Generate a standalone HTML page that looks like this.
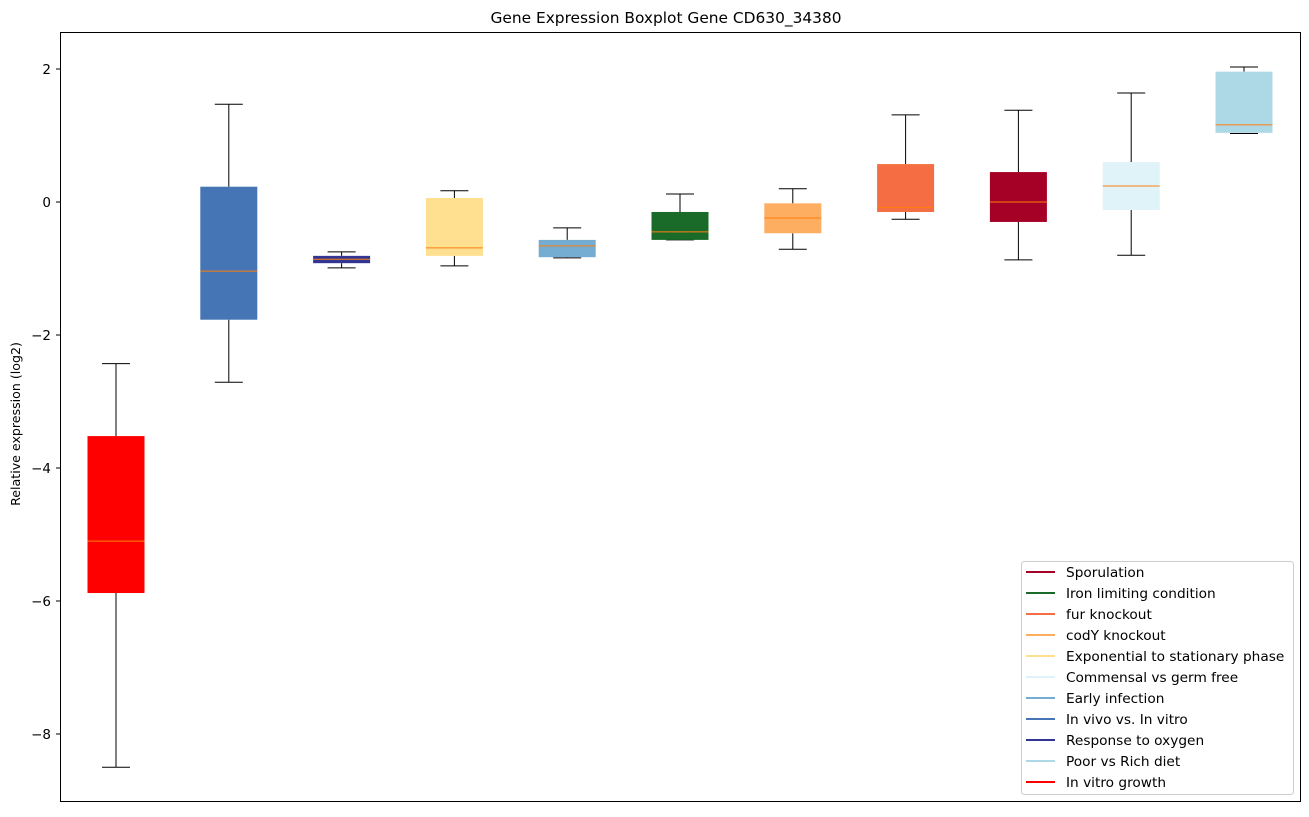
<!DOCTYPE html>
<html><head><meta charset="utf-8"><style>
body{margin:0;background:#fff;font-family:"Liberation Sans","DejaVu Sans",sans-serif}
svg text{font-family:"DejaVu Sans","Liberation Sans",sans-serif}
</style></head><body>
<svg id="chart" width="1309" height="812">
<rect width="1309" height="812" fill="#fff"/>
<text x="666" y="23" text-anchor="middle" font-size="15.4">Gene Expression Boxplot Gene CD630_34380</text>
<text transform="translate(20,424) rotate(-90)" text-anchor="middle" font-size="12.6">Relative expression (log2)</text>
<g id="marks"></g>
<g id="yticks"></g>
<rect x="60.5" y="32.5" width="1240" height="769" fill="none" stroke="#000" stroke-width="1"/>
<g id="legend"></g>
</svg>
<script>
const categories=["In vitro growth","In vivo vs. In vitro","Response to oxygen","Exponential to stationary phase","Early infection","Iron limiting condition","codY knockout","fur knockout","Sporulation","Commensal vs germ free","Poor vs Rich diet"];
const colors=["#ff0000","#4575b4","#313695","#fee090","#74add1","#1a6b2a","#fdae61","#f46d43","#a50026","#e0f3f8","#add8e6"];
const whiskerHigh=[-2.43,1.47,-0.75,0.17,-0.39,0.12,0.20,1.31,1.38,1.64,2.03];
const q3=[-3.52,0.23,-0.81,0.06,-0.57,-0.15,-0.02,0.57,0.45,0.60,1.96];
const medians=[-5.10,-1.04,-0.86,-0.69,-0.66,-0.45,-0.24,-0.08,0.00,0.24,1.16];
const q1=[-5.88,-1.77,-0.92,-0.81,-0.83,-0.57,-0.47,-0.15,-0.30,-0.12,1.04];
const whiskerLow=[-8.50,-2.71,-0.99,-0.96,-0.84,-0.57,-0.71,-0.26,-0.87,-0.80,1.03];
const yTicks=[2,0,-2,-4,-6,-8];
const legendOrder=["Sporulation","Iron limiting condition","fur knockout","codY knockout","Exponential to stationary phase","Commensal vs germ free","Early infection","In vivo vs. In vitro","Response to oxygen","Poor vs Rich diet","In vitro growth"];
const NS="http://www.w3.org/2000/svg";
function y(v){return 202-66.5*v;}
function x(i){return 116+112.8*i;}
function mk(tag,attrs,parent){const e=document.createElementNS(NS,tag);for(const k in attrs)e.setAttribute(k,attrs[k]);parent.appendChild(e);return e;}
const marks=document.getElementById('marks');
categories.forEach((c,i)=>{
 const cx=x(i),bw=57,cw=28;
 const g=mk('g',{},marks);
 
 
 mk('line',{x1:cx,x2:cx,y1:y(whiskerHigh[i]),y2:y(q3[i]),stroke:'#000'},g);
 mk('line',{x1:cx,x2:cx,y1:y(q1[i]),y2:y(whiskerLow[i]),stroke:'#000'},g);
 mk('line',{x1:cx-cw/2,x2:cx+cw/2,y1:y(whiskerHigh[i]),y2:y(whiskerHigh[i]),stroke:'#000'},g);
 mk('line',{x1:cx-cw/2,x2:cx+cw/2,y1:y(whiskerLow[i]),y2:y(whiskerLow[i]),stroke:'#000'},g);
 mk('rect',{x:cx-bw/2,y:y(q3[i]),width:bw,height:Math.max(1,y(q1[i])-y(q3[i])),fill:colors[i]},g);
 mk('line',{x1:cx-bw/2,x2:cx+bw/2,y1:y(medians[i]),y2:y(medians[i]),stroke:'#ff7f0e','stroke-width':1},g);
});
const yt=document.getElementById('yticks');
yTicks.forEach(t=>{
 mk('line',{x1:56,x2:60,y1:y(t),y2:y(t),stroke:'#000'},yt);
 const tx=mk('text',{x:51,y:y(t)+5,'text-anchor':'end','font-size':13.5},yt);
 tx.textContent=(t<0?'\u2212'+(-t):t);
 
 
});
const lg=document.getElementById('legend');


mk('rect',{x:1021.5,y:561.5,width:272,height:233,fill:'#fff',stroke:'#ccc',rx:3},lg);
legendOrder.forEach((n,j)=>{
 const ci=categories.indexOf(n);
 const yy=572+21*j;
 const e=mk('g',{},lg);
 
 
 mk('line',{x1:1026,x2:1055,y1:yy,y2:yy,stroke:colors[ci],'stroke-width':2},e);
 const t=mk('text',{x:1066,y:yy+5,'font-size':13.7},e);
 t.textContent=n;
});
</script>
</body></html>
